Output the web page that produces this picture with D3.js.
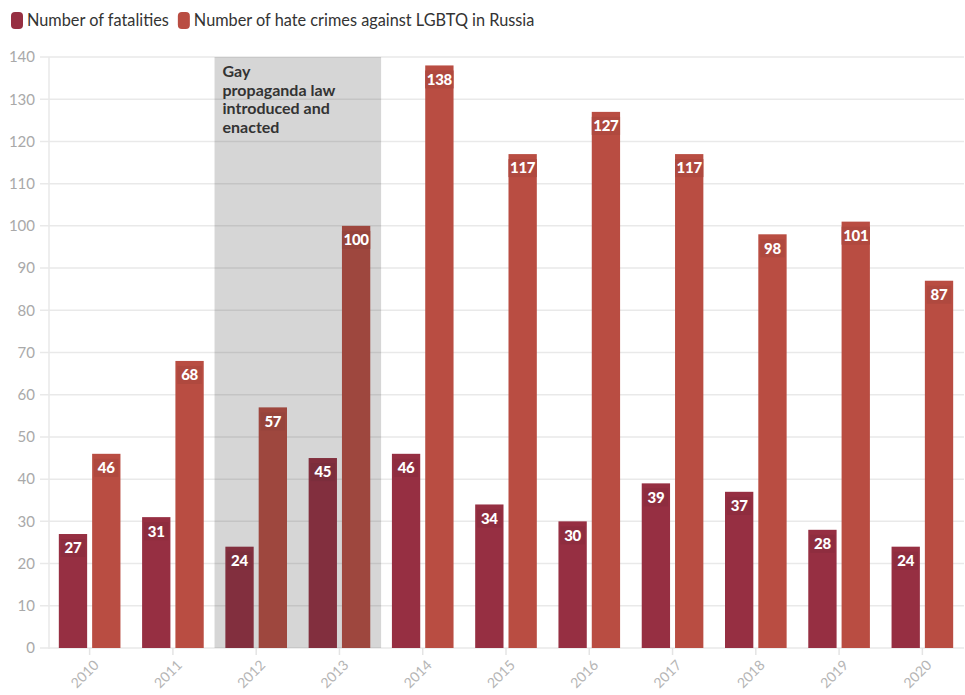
<!DOCTYPE html>
<html>
<head>
<meta charset="utf-8">
<script src="https://cdn.jsdelivr.net/npm/d3@7"></script>
<style>
  html, body { margin: 0; padding: 0; background: #fff; }
  svg { display: block; font-family: Lato, "Noto Sans", sans-serif; }
</style>
</head>
<body>
<svg id="chart" width="965" height="695"></svg>
<script>
// Yearly figures
const years = ["2010", "2011", "2012", "2013", "2014", "2015", "2016", "2017", "2018", "2019", "2020"];
const fatalities = [27, 31, 24, 45, 46, 34, 30, 39, 37, 28, 24];
const hateCrimes = [46, 68, 57, 100, 138, 117, 127, 117, 98, 101, 87];
const seriesNames = ["Number of fatalities", "Number of hate crimes against LGBTQ in Russia"];
const seriesColors = ["#962f42", "#b94d42"];
const yTicks = [0, 10, 20, 30, 40, 50, 60, 70, 80, 90, 100, 110, 120, 130, 140];
const highlightYears = ["2012", "2013"];
const highlightText = ["Gay", "propaganda law", "introduced and", "enacted"];

const svg = d3.select("#chart");
const margin = { top: 57, right: 1, bottom: 47, left: 48 };
const W = 965, H = 695;
const innerW = W - margin.left - margin.right;
const innerH = H - margin.top - margin.bottom;

const g = svg.append("g").attr("transform", `translate(${margin.left},${margin.top})`);

const x0 = d3.scaleBand().domain(years).range([0, innerW]).paddingInner(0.26).paddingOuter(0.13);
const x1 = d3.scaleBand().domain([0, 1]).range([0, x0.bandwidth()]).paddingInner(0.15);
const y = d3.scaleLinear().domain([0, 140]).range([innerH, 0]);

// Grid lines
g.append("g").selectAll("line").data(yTicks).join("line")
  .attr("x1", -8).attr("x2", innerW)
  .attr("y1", d => y(d)).attr("y2", d => y(d))
  .attr("stroke", "#e9e9e9").attr("stroke-width", 1.5);
g.append("line").attr("x1", 1).attr("x2", 1).attr("y1", 0).attr("y2", innerH + 1)
  .attr("stroke", "#e9e9e9").attr("stroke-width", 1.5);

// Y axis labels
const yAxis = g.append("g").call(d3.axisLeft(y).tickValues(yTicks).tickSize(0).tickPadding(13));
yAxis.select(".domain").remove();
yAxis.selectAll("text").attr("fill", "#a9a9a9").style("font-size", "15px").style("font-family", "Lato, sans-serif");

// X axis
const xAxis = g.append("g").attr("transform", `translate(0,${innerH})`)
  .call(d3.axisBottom(x0).tickSize(7).tickPadding(3));
xAxis.select(".domain").remove();
xAxis.selectAll("line").attr("stroke", "#e4e4e4").attr("stroke-width", 1.5);
xAxis.selectAll("text")
  .attr("fill", "#b5b5b5").style("font-size", "14px").style("font-family", "Lato, sans-serif")
  .attr("text-anchor", "end")
  .attr("dx", "-0.4em").attr("dy", "0.7em")
  .attr("transform", "rotate(-45)");

// Bars
const rows = years.map((yr, i) => ({ year: yr, values: [fatalities[i], hateCrimes[i]] }));
const cells = d => d.values.map((v, k) => ({ k, v }));
const groups = g.append("g").selectAll("g").data(rows).join("g")
  .attr("transform", d => `translate(${x0(d.year)},0)`);
groups.selectAll("rect.bar").data(cells).join("rect")
  .attr("class", "bar")
  .attr("x", d => x1(d.k)).attr("width", x1.bandwidth())
  .attr("y", d => y(d.v)).attr("height", d => innerH - y(d.v))
  .attr("fill", d => seriesColors[d.k]);

// Label backgrounds
groups.selectAll("rect.lblbg").data(cells).join("rect")
  .attr("class", "lblbg")
  .attr("x", d => x1(d.k) + x1.bandwidth() / 2 - Math.min(String(d.v).length * 4.6 + 3, x1.bandwidth() / 2))
  .attr("width", d => Math.min(String(d.v).length * 9.2 + 6, x1.bandwidth()))
  .attr("y", d => y(d.v) + 5).attr("height", 18)
  .attr("fill", d => d3.color(seriesColors[d.k]).darker(0.15));

// Highlighted period
const hx0 = x0(highlightYears[0]) - x0.step() * x0.paddingInner() / 2;
const hx1 = x0(highlightYears[1]) + x0.bandwidth() + x0.step() * x0.paddingInner() / 2;
g.append("rect").attr("x", hx0).attr("y", y(140)).attr("width", hx1 - hx0).attr("height", innerH - y(140))
  .attr("fill", "rgb(50,50,50)").attr("opacity", 0.2);
g.append("text").attr("x", hx0 + 8).attr("y", 20)
  .attr("fill", "#333").style("font-size", "16px").style("font-weight", "700")
  .selectAll("tspan").data(highlightText).join("tspan")
  .attr("x", hx0 + 8).attr("dy", (d, i) => i === 0 ? 0 : 18.7).text(d => d);

// Value labels
const labelLayer = g.append("g").selectAll("g").data(rows).join("g")
  .attr("transform", d => `translate(${x0(d.year)},0)`);
labelLayer.selectAll("text").data(cells).join("text")
  .attr("x", d => x1(d.k) + x1.bandwidth() / 2)
  .attr("y", d => y(d.v) + 14)
  .attr("text-anchor", "middle").attr("dy", "0.36em")
  .attr("fill", "#fff").style("font-size", "15px").style("font-weight", "900")
  .style("letter-spacing", "-0.3px")
  .text(d => d.v);

// Legend
const legend = svg.append("g").attr("transform", "translate(11,12)");
let lx = 0;
seriesNames.forEach((name, k) => {
  const item = legend.append("g").attr("transform", `translate(${lx},0)`);
  item.append("rect").attr("width", 12).attr("height", 17).attr("rx", 4).attr("fill", seriesColors[k]);
  const t = item.append("text").attr("x", 16).attr("y", 8.5).attr("dy", "0.35em")
    .attr("fill", "#333").style("font-size", "16.3px").text(name);
  lx += 16 + t.node().getComputedTextLength() + 9;
});
</script>
</body>
</html>
